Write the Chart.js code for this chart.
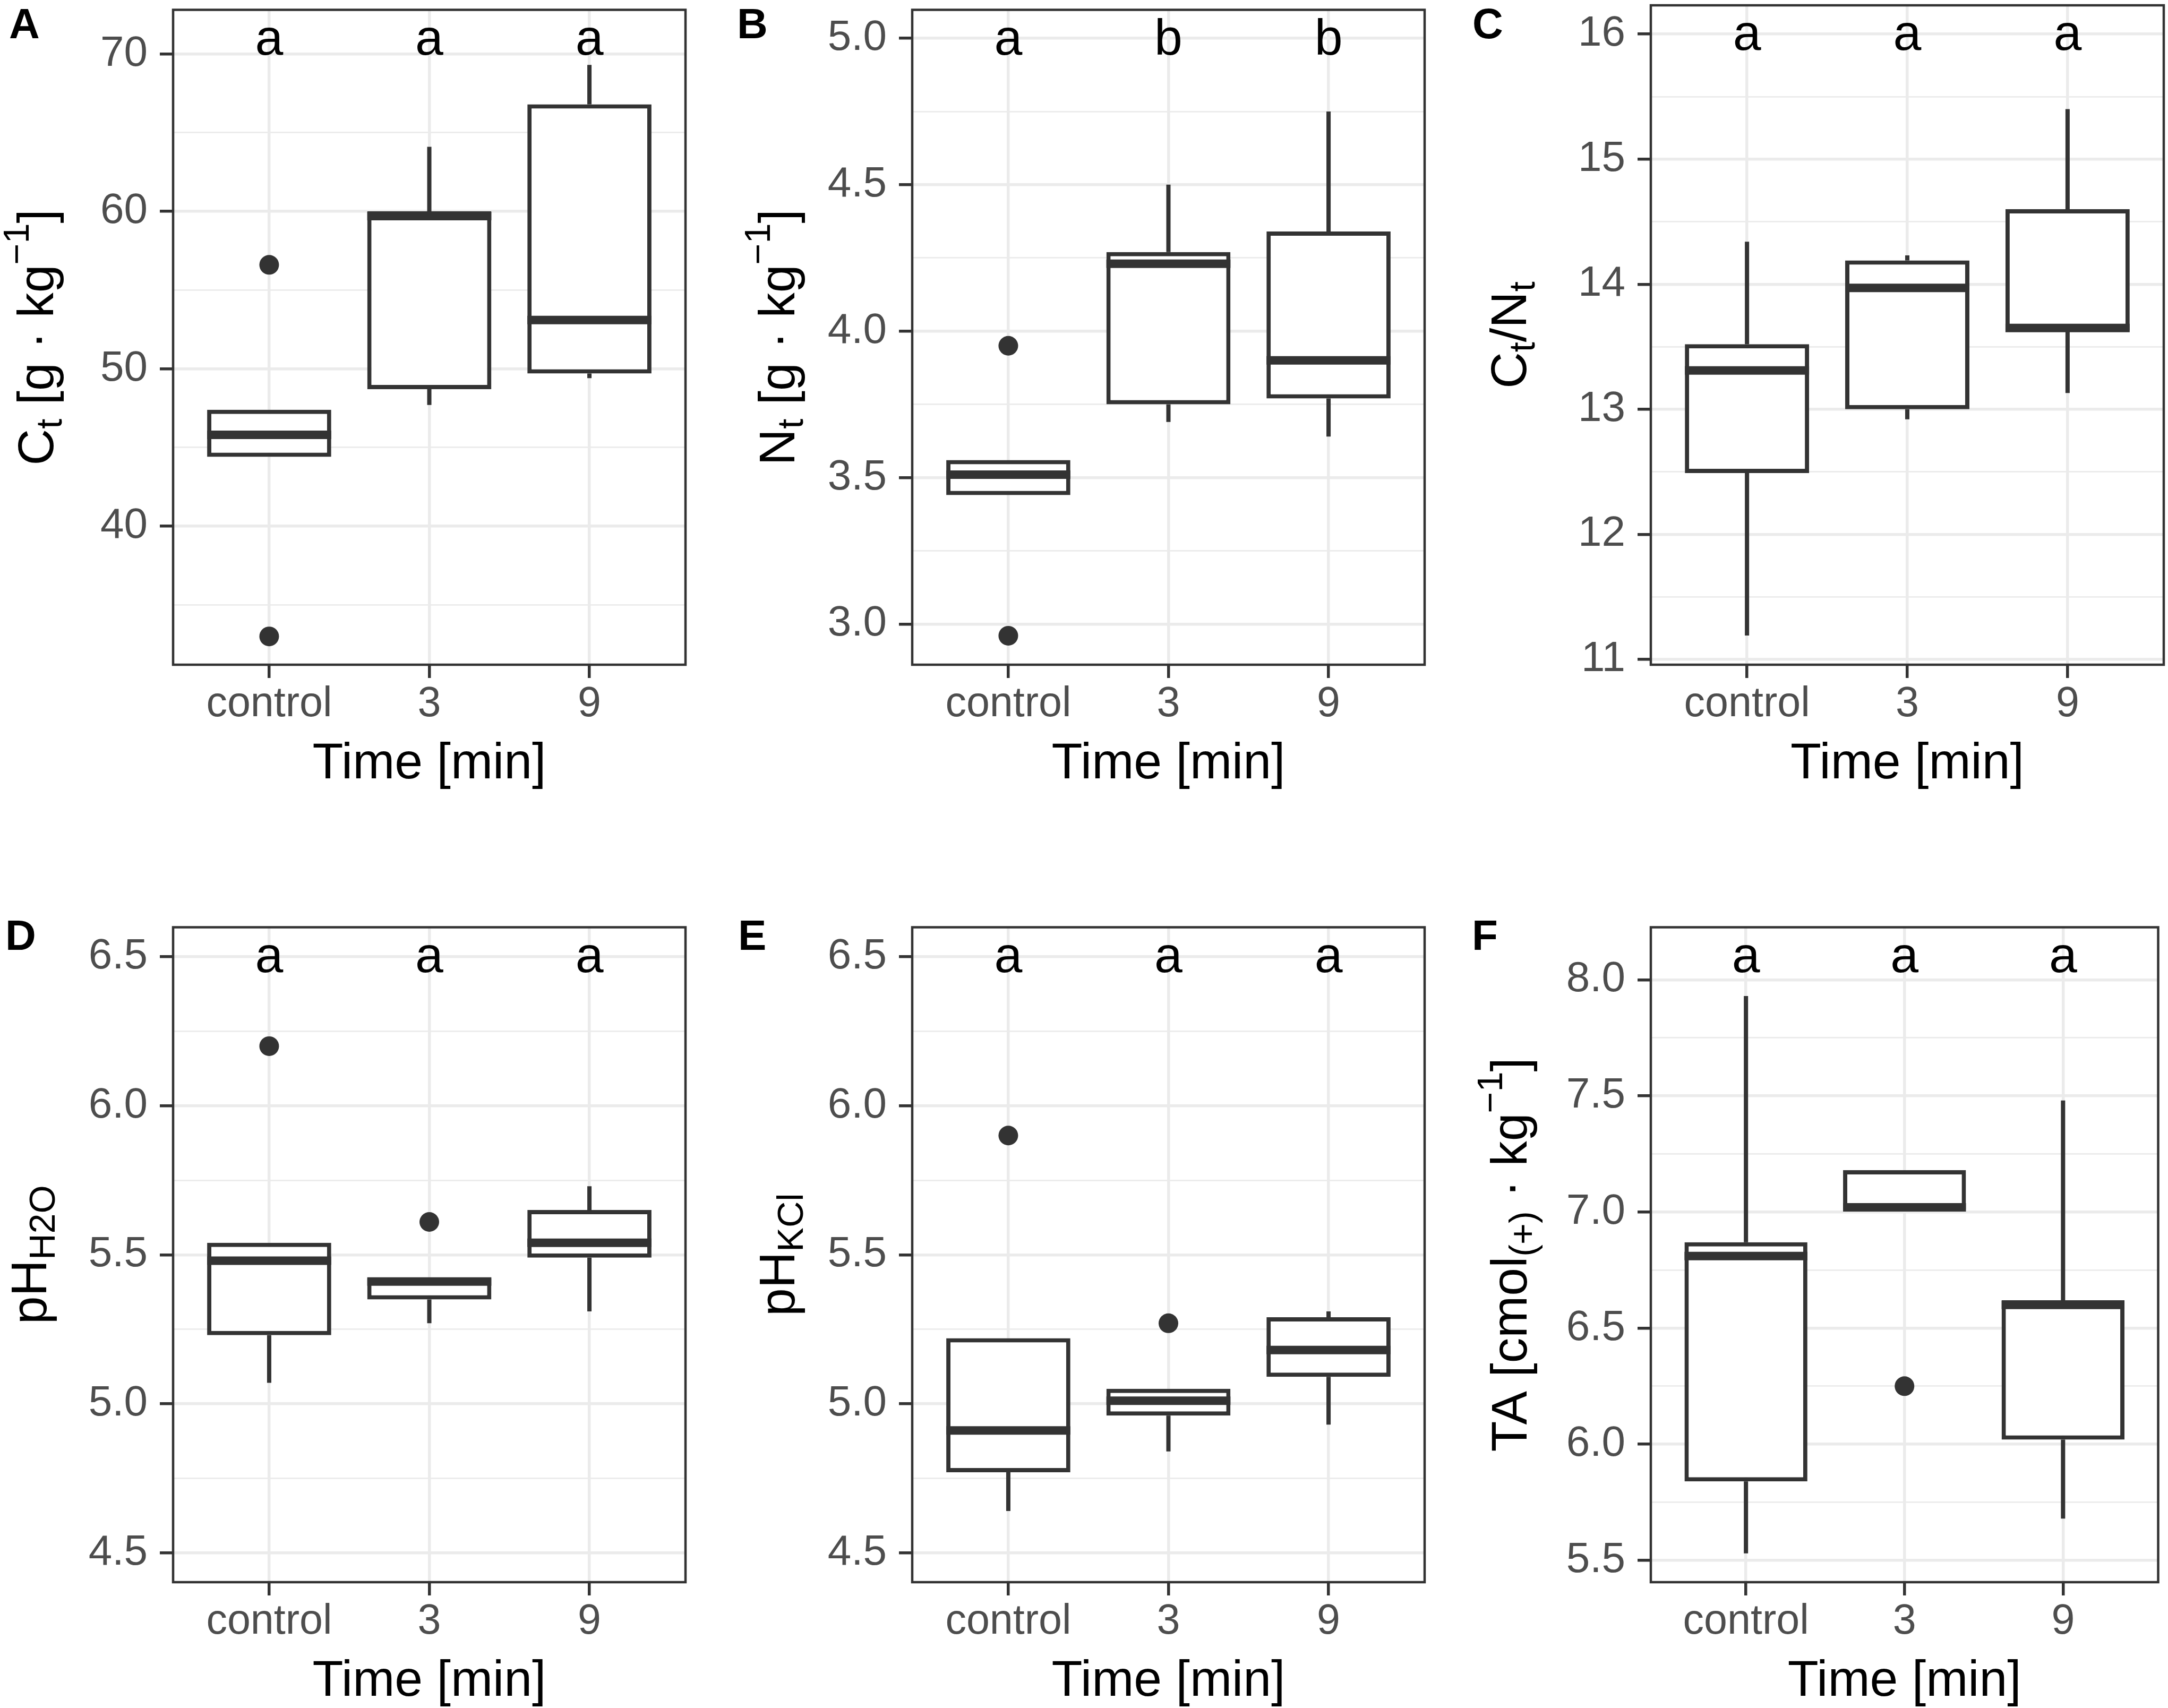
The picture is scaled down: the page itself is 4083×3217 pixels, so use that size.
<!DOCTYPE html>
<html lang="en">
<head>
<meta charset="UTF-8">
<title>Soil properties by heating time</title>
<script src="https://cdn.jsdelivr.net/npm/chart.js"></script>
<style>
  html, body { margin: 0; padding: 0; background: #fff; }
  body { width: 4083px; height: 3217px; position: relative; overflow: hidden;
         font-family: "Liberation Sans", Arial, sans-serif; }
  canvas { position: absolute; }
  .tag { position: absolute; font-size: 80px; font-weight: bold; line-height: 1; color: #000; }
</style>
</head>
<body>
<div class="tag" style="left:17px;top:5px">A</div>
<div class="tag" style="left:1388px;top:5px">B</div>
<div class="tag" style="left:2773px;top:5px">C</div>
<div class="tag" style="left:10px;top:1722px">D</div>
<div class="tag" style="left:1390px;top:1722px">E</div>
<div class="tag" style="left:2772px;top:1722px">F</div>

<canvas id="chartA" width="1392" height="1489" style="left:0;top:0"></canvas>
<canvas id="chartB" width="1391" height="1489" style="left:1392px;top:0"></canvas>
<canvas id="chartC" width="1300" height="1489" style="left:2783px;top:0"></canvas>
<canvas id="chartD" width="1392" height="1489" style="left:0;top:1728px"></canvas>
<canvas id="chartE" width="1391" height="1489" style="left:1392px;top:1728px"></canvas>
<canvas id="chartF" width="1300" height="1489" style="left:2783px;top:1728px"></canvas>

<script>
const categories = ['control', '3', '9'];

// A: total carbon Ct [g kg-1]
const ctMin = [44.4, 47.7, 49.4];
const ctQ1 = [44.4, 48.7, 49.7];
const ctMed = [45.8, 59.7, 53.1];
const ctQ3 = [47.4, 60.0, 66.8];
const ctMax = [47.4, 64.1, 69.3];
const ctOutliers = [[56.6, 33.0], [], []];
const ctLetters = ['a', 'a', 'a'];
const ctMajor = [40, 50, 60, 70];
const ctMinor = [35, 45, 55, 65];

// B: total nitrogen Nt [g kg-1]
const ntMin = [3.44, 3.69, 3.64];
const ntQ1 = [3.44, 3.75, 3.77];
const ntMed = [3.51, 4.23, 3.90];
const ntQ3 = [3.56, 4.27, 4.34];
const ntMax = [3.56, 4.50, 4.75];
const ntOutliers = [[3.95, 2.96], [], []];
const ntLetters = ['a', 'b', 'b'];
const ntMajor = [3.0, 3.5, 4.0, 4.5, 5.0];
const ntMinor = [3.25, 3.75, 4.25, 4.75];

// C: Ct/Nt ratio
const cnMin = [11.19, 12.92, 13.13];
const cnQ1 = [12.49, 13.00, 13.63];
const cnMed = [13.31, 13.97, 13.65];
const cnQ3 = [13.52, 14.19, 14.60];
const cnMax = [14.34, 14.23, 15.40];
const cnOutliers = [[], [], []];
const cnLetters = ['a', 'a', 'a'];
const cnMajor = [11, 12, 13, 14, 15, 16];
const cnMinor = [11.5, 12.5, 13.5, 14.5, 15.5];

// D: pH in water
const phwMin = [5.07, 5.27, 5.31];
const phwQ1 = [5.23, 5.35, 5.49];
const phwMed = [5.48, 5.41, 5.54];
const phwQ3 = [5.54, 5.42, 5.65];
const phwMax = [5.54, 5.42, 5.73];
const phwOutliers = [[6.20], [5.61], []];
const phwLetters = ['a', 'a', 'a'];

// E: pH in KCl
const phkMin = [4.64, 4.84, 4.93];
const phkQ1 = [4.77, 4.96, 5.09];
const phkMed = [4.91, 5.01, 5.18];
const phkQ3 = [5.22, 5.05, 5.29];
const phkMax = [5.22, 5.05, 5.31];
const phkOutliers = [[5.90], [5.27], []];
const phkLetters = ['a', 'a', 'a'];

const phMajor = [4.5, 5.0, 5.5, 6.0, 6.5];
const phMinor = [4.75, 5.25, 5.75, 6.25];

// F: total acidity TA [cmol(+) kg-1]
const taMin = [5.53, 7.01, 5.68];
const taQ1 = [5.84, 7.01, 6.02];
const taMed = [6.81, 7.02, 6.60];
const taQ3 = [6.87, 7.18, 6.62];
const taMax = [7.93, 7.18, 7.48];
const taOutliers = [[], [6.25], []];
const taLetters = ['a', 'a', 'a'];
const taMajor = [5.5, 6.0, 6.5, 7.0, 7.5, 8.0];
const taMinor = [5.75, 6.25, 6.75, 7.25, 7.75];

// y axis titles: [text, 'sub' | 'sup' | '']
const ctTitle = [['C', ''], ['t', 'sub'], [' [g \u00b7 kg', ''], ['\u22121', 'sup'], [']', '']];
const ntTitle = [['N', ''], ['t', 'sub'], [' [g \u00b7 kg', ''], ['\u22121', 'sup'], [']', '']];
const cnTitle = [['C', ''], ['t', 'sub'], ['/N', ''], ['t', 'sub']];
const phwTitle = [['pH', ''], ['H2O', 'sub']];
const phkTitle = [['pH', ''], ['KCl', 'sub']];
const taTitle = [['TA [cmol', ''], ['(+)', 'sub'], [' \u00b7 kg', ''], ['\u22121', 'sup'], [']', '']];
const xTitle = 'Time [min]';

const FONT = '"Liberation Sans", Arial, sans-serif';
Chart.defaults.font.family = FONT;

const panels = [
  { id: 'chartA', min: ctMin, q1: ctQ1, med: ctMed, q3: ctQ3, max: ctMax, out: ctOutliers,
    letters: ctLetters, major: ctMajor, minor: ctMinor, yMin: 31.2, yMax: 72.8, dec: 0,
    title: ctTitle, titleX: 100, padRight: 101 },
  { id: 'chartB', min: ntMin, q1: ntQ1, med: ntMed, q3: ntQ3, max: ntMax, out: ntOutliers,
    letters: ntLetters, major: ntMajor, minor: ntMinor, yMin: 2.861, yMax: 5.097, dec: 1,
    title: ntTitle, titleX: 104, padRight: 100 },
  { id: 'chartC', min: cnMin, q1: cnQ1, med: cnMed, q3: cnQ3, max: cnMax, out: cnOutliers,
    letters: cnLetters, major: cnMajor, minor: cnMinor, yMin: 10.957, yMax: 16.23, dec: 0,
    title: cnTitle, titleX: 91, padRight: 8 },
  { id: 'chartD', min: phwMin, q1: phwQ1, med: phwMed, q3: phwQ3, max: phwMax, out: phwOutliers,
    letters: phwLetters, major: phMajor, minor: phMinor, yMin: 4.401, yMax: 6.599, dec: 1,
    title: phwTitle, titleX: 87, padRight: 101 },
  { id: 'chartE', min: phkMin, q1: phkQ1, med: phkMed, q3: phkQ3, max: phkMax, out: phkOutliers,
    letters: phkLetters, major: phMajor, minor: phMinor, yMin: 4.401, yMax: 6.599, dec: 1,
    title: phkTitle, titleX: 104, padRight: 100 },
  { id: 'chartF', min: taMin, q1: taQ1, med: taMed, q3: taQ3, max: taMax, out: taOutliers,
    letters: taLetters, major: taMajor, minor: taMinor, yMin: 5.406, yMax: 8.226, dec: 1,
    title: taTitle, titleX: 92, padRight: 8 }
];

const DARK = '#333333';
const GRID = '#EBEBEB';

function isIn(list, v) {
  return list.some(m => Math.abs(m - v) < 1e-9);
}

function drawRichTitle(ctx, parts, x, y, size) {
  const small = size * 0.72;
  const widths = parts.map(([t, k]) => {
    ctx.font = `${k ? small : size}px ${FONT}`;
    return ctx.measureText(t).width;
  });
  const total = widths.reduce((a, b) => a + b, 0);
  ctx.save();
  ctx.translate(x, y);
  ctx.rotate(-Math.PI / 2);
  ctx.fillStyle = '#000';
  ctx.textBaseline = 'alphabetic';
  ctx.textAlign = 'left';
  let cx = -total / 2;
  parts.forEach(([t, k], i) => {
    ctx.font = `${k ? small : size}px ${FONT}`;
    const dy = k === 'sub' ? size * 0.17 : k === 'sup' ? -size * 0.48 : 0;
    ctx.fillText(t, cx, dy);
    cx += widths[i];
  });
  ctx.restore();
}

function boxParts(p) {
  return {
    id: 'boxParts',
    beforeDatasetsDraw(chart) {
      const {ctx, scales: {x, y}} = chart;
      ctx.save();
      ctx.strokeStyle = DARK;
      ctx.lineWidth = 8;
      ctx.beginPath();
      p.q1.forEach((q, i) => {
        const px = x.getPixelForValue(i + 1);
        ctx.moveTo(px, y.getPixelForValue(p.max[i]));
        ctx.lineTo(px, y.getPixelForValue(p.q3[i]));
        ctx.moveTo(px, y.getPixelForValue(q));
        ctx.lineTo(px, y.getPixelForValue(p.min[i]));
      });
      ctx.stroke();
      ctx.restore();
    },
    afterDatasetsDraw(chart) {
      const {ctx, scales: {y}} = chart;
      const bars = chart.getDatasetMeta(0).data;
      ctx.save();
      ctx.strokeStyle = DARK;
      ctx.lineWidth = 16;
      ctx.beginPath();
      bars.forEach((bar, i) => {
        const {x, width} = bar.getProps(['x', 'width'], true);
        const py = y.getPixelForValue(p.med[i]);
        ctx.moveTo(x - width / 2, py);
        ctx.lineTo(x + width / 2, py);
      });
      ctx.stroke();
      ctx.restore();
    },
    afterDraw(chart) {
      const {ctx, chartArea: a, scales: {x}} = chart;
      ctx.save();
      ctx.strokeStyle = DARK;
      ctx.lineWidth = 4.5;
      ctx.strokeRect(a.left, a.top, a.right - a.left, a.bottom - a.top);
      ctx.fillStyle = '#000';
      ctx.font = `95px ${FONT}`;
      ctx.textAlign = 'center';
      ctx.textBaseline = 'alphabetic';
      p.letters.forEach((l, i) => {
        ctx.fillText(l, x.getPixelForValue(i + 1), a.top + 84);
      });
      ctx.restore();
      drawRichTitle(ctx, p.title, p.titleX, (a.top + a.bottom) / 2, 95);
    }
  };
}

function makeChart(p) {
  const yTicks = p.major.concat(p.minor).sort((a, b) => a - b);
  const outlierPoints = [];
  p.out.forEach((vals, i) => vals.forEach(v => outlierPoints.push({x: i + 1, y: v})));

  return new Chart(document.getElementById(p.id), {
    type: 'bar',
    data: {
      datasets: [
        {
          type: 'bar',
          data: p.q1.map((q, i) => ({x: i + 1, y: [q, p.q3[i]]})),
          backgroundColor: '#FFFFFF',
          borderColor: DARK,
          borderWidth: 8,
          borderSkipped: false,
          categoryPercentage: 0.775,
          barPercentage: 1.0
        },
        {
          type: 'scatter',
          data: outlierPoints,
          pointRadius: 18.5,
          pointBackgroundColor: DARK,
          pointBorderWidth: 0
        }
      ]
    },
    options: {
      responsive: false,
      animation: false,
      devicePixelRatio: 1,
      layout: { padding: { top: 10, left: 0, right: p.padRight, bottom: 0 } },
      plugins: { legend: { display: false }, tooltip: { enabled: false } },
      scales: {
        x: {
          type: 'linear',
          min: 0.4,
          max: 3.6,
          offset: false,
          afterBuildTicks: s => { s.ticks = categories.map((c, i) => ({value: i + 1})); },
          afterFit: s => { s.height = 237; s.paddingLeft = 0; s.paddingRight = 0; },
          ticks: {
            autoSkip: false, maxRotation: 0, padding: 11, color: '#4D4D4D',
            font: { size: 79, lineHeight: 1 },
            callback: v => categories[Math.round(v) - 1]
          },
          grid: { offset: false, color: GRID, lineWidth: 5.5, tickLength: 25, tickColor: DARK, tickWidth: 5.5 },
          border: { display: false },
          title: { display: true, text: xTitle, color: '#000', font: { size: 95, lineHeight: 1 },
                   padding: { top: 0, bottom: 2 } }
        },
        y: {
          type: 'linear',
          min: p.yMin,
          max: p.yMax,
          afterBuildTicks: s => { s.ticks = yTicks.map(v => ({value: v})); },
          afterFit: s => { s.width = 326; s.paddingTop = 0; s.paddingBottom = 0; },
          ticks: {
            autoSkip: false, padding: 23, color: '#4D4D4D',
            font: { size: 80, lineHeight: 1 },
            callback: v => isIn(p.major, v) ? v.toFixed(p.dec) : ''
          },
          grid: {
            color: GRID,
            lineWidth: c => isIn(p.major, c.tick.value) ? 5.5 : 2.8,
            tickLength: 25,
            tickColor: c => isIn(p.major, c.tick.value) ? DARK : 'rgba(0,0,0,0)',
            tickWidth: 5.5
          },
          border: { display: false }
        }
      }
    },
    plugins: [boxParts(p)]
  });
}

panels.forEach(makeChart);
</script>
</body>
</html>
